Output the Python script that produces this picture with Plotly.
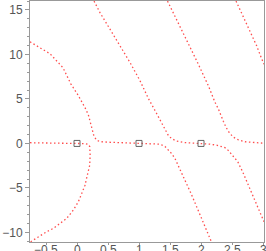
import plotly.graph_objects as go

# Branch A: upper-left -> horizontal through x=1 -> steep down to bottom
a_x = [-0.758, -0.435, -0.226, -0.100, 0.021, 0.076, 0.129, 0.182, 0.221, 0.247, 0.274, 0.318, 0.371, 0.50, 0.694, 1.0,
       1.258, 1.339, 1.419, 1.473, 1.527, 1.581, 1.613, 1.677, 1.758, 1.839, 1.919, 2.0, 2.081, 2.161, 2.17]
a_y = [11.42, 10.08, 8.51, 6.70, 5.38, 4.72, 4.02, 3.25, 2.30, 1.45, 0.80, 0.36, 0.20, 0.14, 0.09, 0.03,
       -0.03, -0.08, -0.34, -0.71, -1.15, -1.71, -2.20, -3.02, -4.33, -5.63, -6.94, -8.25, -9.74, -10.97, -11.1]

# Branch L: horizontal through x=0, turning down to lower-left corner
l_x = [-0.758, -0.274, 0.0, 0.129, 0.182, 0.205, 0.212, 0.205, 0.166, 0.129, 0.076, 0.021, -0.06, -0.166, -0.274,
       -0.382, -0.489, -0.597, -0.705, -0.758]
l_y = [0.08, 0.06, 0.02, -0.02, -0.10, -0.35, -1.3, -2.46, -3.58, -4.70, -5.63, -6.57, -7.50, -8.43, -8.99,
       -9.55, -9.93, -10.41, -10.86, -11.09]

# Branch C: steep line from top -> horizontal through x=2 -> down to right edge
c_x = [0.275, 0.371, 0.532, 0.694, 0.855, 1.016, 1.15, 1.258, 1.366, 1.419, 1.473, 1.527, 1.608, 1.715, 1.984,
       2.145, 2.253, 2.334, 2.387, 2.44, 2.479, 2.521, 2.56, 2.592, 2.673, 2.834, 3.005, 3.016]
c_y = [16.0, 14.70, 12.84, 10.97, 9.10, 7.05, 5.07, 3.70, 2.21, 1.46, 0.90, 0.53, 0.26, 0.11, 0.03,
       -0.08, -0.19, -0.34, -0.48, -0.78, -1.09, -1.46, -1.83, -2.05, -3.21, -5.82, -8.62, -8.8]

# Branch D: steep line from top -> horizontal to right edge
d_x = [1.46, 1.634, 1.795, 1.956, 2.118, 2.198, 2.226, 2.279, 2.318, 2.36, 2.403, 2.456, 2.521, 2.602, 2.71, 2.844,
       2.979, 3.016]
d_y = [16.0, 13.58, 11.16, 8.92, 6.49, 5.01, 4.62, 3.89, 3.14, 2.50, 1.83, 1.20, 0.71, 0.41, 0.19, 0.08,
       0.03, 0.02]

# Branch E: steep line near right edge
e_x = [2.565, 2.737, 2.898, 2.979, 3.016]
e_y = [16.0, 13.40, 10.97, 9.5, 8.9]

# Open-loop markers
pole_x = [0, 1, 2]
pole_y = [0, 0, 0]

x_ticks = [-0.5, 0, 0.5, 1, 1.5, 2, 2.5, 3]
x_tick_text = ["\u22120.5", "0", "0.5", "1", "1.5", "2", "2.5", "3"]
y_ticks = [-10, -5, 0, 5, 10, 15]
y_tick_text = ["\u221210", "\u22125", "0", "5", "10", "15"]

fig = go.Figure()
line_style = dict(color="rgba(255,0,0,0.7)", width=1.3, dash="1.5px,2.5px")
for bx, by in [(a_x, a_y), (l_x, l_y), (c_x, c_y), (d_x, d_y), (e_x, e_y)]:
    fig.add_trace(go.Scatter(x=bx, y=by, mode="lines", line=line_style, hoverinfo="skip", cliponaxis=True))

fig.add_trace(go.Scatter(x=pole_x, y=pole_y, mode="markers", hoverinfo="skip",
                         marker=dict(symbol="square-open", size=6, color="#666666", line=dict(width=1, color="#666666"))))

font = dict(family="Liberation Sans, Arial, sans-serif", size=12, color="#555555")
axis_common = dict(showgrid=False, zeroline=False, showline=True, linecolor="#999999", linewidth=1, mirror=True,
                   ticks="outside", tickcolor="#999999", automargin=False, tickfont=font)

# x tick labels placed just under the axis (the page cuts them, as in the reference)
for tv, tt in zip(x_ticks, x_tick_text):
    fig.add_annotation(x=tv, y=0, xref="x", yref="paper", text=tt, showarrow=False,
                       xanchor="center", yanchor="top", yshift=0, font=font, borderpad=0)

fig.update_layout(
    width=266, height=251,
    margin=dict(l=30, r=2, t=1, b=9),
    plot_bgcolor="white", paper_bgcolor="white",
    showlegend=False,
    xaxis=dict(range=[-0.758, 3.016], tickvals=x_ticks, showticklabels=False, ticklen=2, **axis_common),
    yaxis=dict(range=[-11.08, 16.01], tickvals=y_ticks, ticktext=y_tick_text, ticklen=4,
               minor=dict(dtick=1, ticklen=2, ticks="outside", tickcolor="#999999"), **axis_common),
)

fig.write_html("out.html", config={"displayModeBar": False},
               post_script="document.body.style.margin='0';document.body.style.overflow='hidden';")
